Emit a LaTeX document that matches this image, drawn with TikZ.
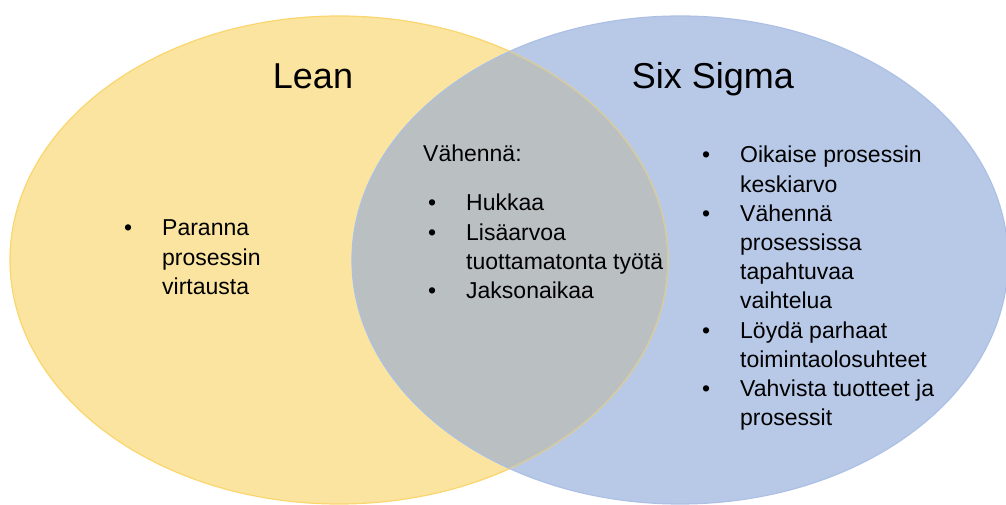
\documentclass[tikz,border=0pt]{standalone}
\usepackage{fontspec}
\setmainfont{Liberation Sans}
\definecolor{leanfill}{RGB}{250,228,160}
\definecolor{leanline}{RGB}{250,214,110}
\definecolor{sigmafill}{RGB}{184,201,232}
\definecolor{sigmaline}{RGB}{172,192,228}
\definecolor{bothfill}{RGB}{186,192,194}
\definecolor{bothline}{RGB}{208,202,168}
\tikzset{
  title/.style={font=\fontsize{36}{43}\selectfont,anchor=base,inner sep=0pt},
  lst/.style={font=\fontsize{23}{29.2}\selectfont,inner sep=0pt,anchor=base west},
  rim/.style={draw=#1,line width=1.2pt},
  lean shape/.style={x radius=329,y radius=244},
  sigma shape/.style={x radius=328,y radius=244},
}
\newcommand{\bu}{\makebox[38pt][l]{\textbullet}}
\newcommand{\blist}[1]{\begin{tabular}[t]{@{}l@{}l@{}}#1\end{tabular}}

\begin{document}
\begin{tikzpicture}[x=1pt,y=1pt]
  \useasboundingbox (0,0) rectangle (1006,505);
  % the two sets
  \fill[leanfill] (339,245) ellipse [lean shape];
  \fill[sigmafill] (680,245) ellipse [sigma shape];
  \begin{scope}
    \clip (339,245) ellipse [lean shape];
    \fill[bothfill] (680,245) ellipse [sigma shape];
  \end{scope}
  \path[rim=leanline] (339,245) ellipse [lean shape];
  \path[rim=sigmaline] (680,245) ellipse [sigma shape];
  \begin{scope}
    \clip (680,245) ellipse [sigma shape];
    \path[rim=bothline] (339,245) ellipse [lean shape];
  \end{scope}
  % titles
  \node[title] (leantitle) at (313,416) {Lean};
  \node[title] (sigmatitle) at (713,416) {Six Sigma};
  % lists
  \node[lst] (leanlist) at (124,269) {\blist{\bu & Paranna\\ & prosessin\\ & virtausta}};
  \node[lst] (bothhead) at (423,343) {Vähennä:};
  \node[lst] (bothlist) at (428,294) {\blist{\bu & Hukkaa\\ \bu & Lisäarvoa\\ & tuottamatonta työtä\\ \bu & Jaksonaikaa}};
  \node[lst] (sigmalist) at (702,342) {\blist{\bu & Oikaise prosessin\\ & keskiarvo\\
    \bu & Vähennä\\ & prosessissa\\ & tapahtuvaa\\ & vaihtelua\\
    \bu & Löydä parhaat\\ & toimintaolosuhteet\\
    \bu & Vahvista tuotteet ja\\ & prosessit}};
\end{tikzpicture}
\end{document}
